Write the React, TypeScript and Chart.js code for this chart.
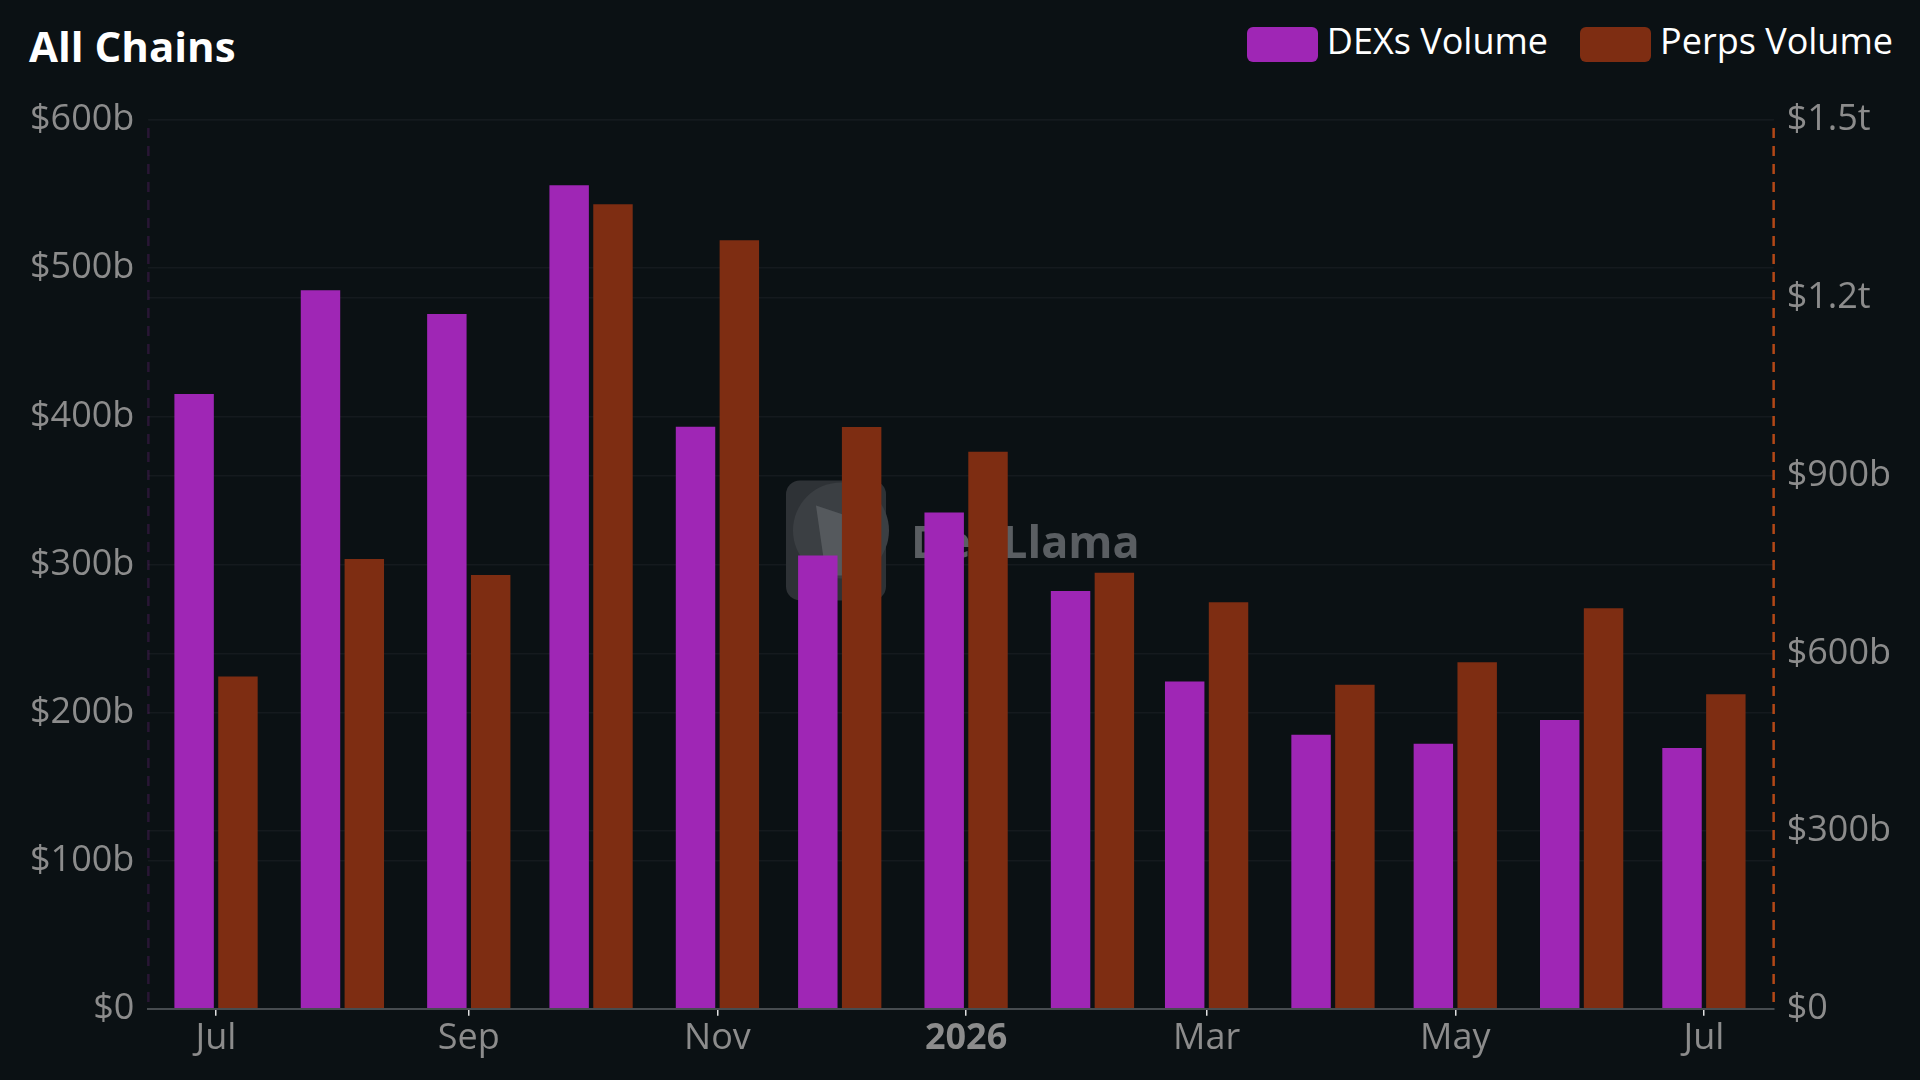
import React, { useEffect, useRef } from "react";
import { Chart, registerables } from "chart.js";

Chart.register(...registerables);

// ---- data ----
const months = [
  "2025-07", "2025-08", "2025-09", "2025-10", "2025-11", "2025-12", "2026-01",
  "2026-02", "2026-03", "2026-04", "2026-05", "2026-06", "2026-07",
];
// billions USD
const dexVolume = [415, 485, 469, 556, 393, 306, 335, 282, 221, 185, 179, 195, 176];
const perpsVolume = [561, 759, 732, 1358, 1297, 982, 940, 736, 686, 547, 585, 676, 531];

const tickMonths = ["2025-07", "2025-09", "2025-11", "2026-01", "2026-03", "2026-05", "2026-07"];
const tickLabels = ["Jul", "Sep", "Nov", "2026", "Mar", "May", "Jul"];

const seriesNames = ["DEXs Volume", "Perps Volume"];
const seriesColors = ["#9f26b5", "#7e2d12"];

const FONT = "'Open Sans', 'Noto Sans', sans-serif";
const BG = "#0b1114";
const TICK_COLOR = "#8c8c8c";
const GRID_COLOR = "#151a1e";

const toDay = (s: string) => {
  const [y, m] = s.split("-").map(Number);
  return Date.UTC(y, m - 1, 1) / 86400000;
};

const fmt = (v: number) => {
  if (v === 0) return "$0";
  if (v >= 1000) return `$${+(v / 1000).toFixed(1)}t`;
  return `$${v}b`;
};

const watermark = {
  id: "watermark",
  beforeDatasetsDraw(chart: any) {
    const { ctx, chartArea } = chart;
    const cx = (chartArea.left + chartArea.right) / 2;
    const cy = (chartArea.top + chartArea.bottom) / 2 - 24;
    ctx.save();
    const lx = cx - 175;
    const ly = cy - 60;
    ctx.fillStyle = "#2e3236";
    ctx.beginPath();
    (ctx as any).roundRect(lx, ly, 100, 120, 14);
    ctx.fill();
    ctx.fillStyle = "#3b3f43";
    ctx.beginPath();
    ctx.arc(lx + 55, ly + 50, 48, 0, Math.PI * 2);
    ctx.fill();
    ctx.fillStyle = "#55595d";
    ctx.beginPath();
    ctx.moveTo(lx + 30, ly + 25);
    ctx.lineTo(lx + 60, ly + 35);
    ctx.lineTo(lx + 72, ly + 95);
    ctx.lineTo(lx + 40, ly + 95);
    ctx.closePath();
    ctx.fill();
    ctx.fillStyle = "#5a5e62";
    ctx.font = `bold 45px ${FONT}`;
    ctx.textBaseline = "alphabetic";
    ctx.textAlign = "left";
    ctx.fillText("DefiLlama", cx - 50, cy + 18);
    ctx.restore();
  },
};

// dashed vertical axis borders (left faint purple, right orange)
const axisBorders = {
  id: "axisBorders",
  afterDatasetsDraw(chart: any) {
    const { ctx, chartArea } = chart;
    const { left, right, top, bottom } = chartArea;
    ctx.save();
    ctx.lineWidth = 2.5;
    ctx.setLineDash([10, 8]);
    ctx.strokeStyle = "rgba(150,40,170,0.22)";
    ctx.beginPath();
    ctx.moveTo(left, top + 8);
    ctx.lineTo(left, bottom);
    ctx.stroke();
    ctx.strokeStyle = "#b34817";
    ctx.beginPath();
    ctx.moveTo(right, top + 8);
    ctx.lineTo(right, bottom);
    ctx.stroke();
    ctx.restore();
  },
};

export default function App() {
  const ref = useRef<HTMLCanvasElement | null>(null);

  useEffect(() => {
    if (!ref.current) return;
    const xs = months.map(toDay);
    const chart = new Chart(ref.current, {
      type: "bar",
      data: {
        datasets: [
          {
            label: seriesNames[0],
            data: xs.map((x, i) => ({ x, y: dexVolume[i] })),
            backgroundColor: seriesColors[0],
            yAxisID: "y",
          },
          {
            label: seriesNames[1],
            data: xs.map((x, i) => ({ x, y: perpsVolume[i] })),
            backgroundColor: seriesColors[1],
            yAxisID: "y1",
          },
        ],
      },
      options: {
        animation: false,
        responsive: true,
        maintainAspectRatio: false,
        categoryPercentage: 0.768,
        barPercentage: 0.9,
        layout: { padding: { top: 120, left: 16, right: 16, bottom: 19 } },
        plugins: {
          legend: { display: false },
          title: { display: false },
          tooltip: { enabled: false },
        },
        scales: {
          x: {
            type: "linear",
            offset: false,
            min: xs[0] - 16.6,
            max: xs[xs.length - 1] + 17.1,
            afterBuildTicks: (axis: any) => {
              axis.ticks = tickMonths.map((m) => ({ value: toDay(m) }));
            },
            grid: {
              offset: false,
              drawOnChartArea: false,
              drawTicks: true,
              tickLength: 7,
              color: "#e0e0e0",
              lineWidth: 1.5,
            },
            border: { display: true, color: "#474c50", width: 2, z: 1 },
            ticks: {
              autoSkip: false,
              maxRotation: 0,
              padding: 1,
              color: TICK_COLOR,
              callback: (_v: any, i: number) => tickLabels[i],
              font: (ctx: any) => ({
                family: FONT,
                size: 36,
                weight: ctx.tick && ctx.tick.label === "2026" ? "bold" : "normal",
              }),
            },
          },
          y: {
            position: "left",
            min: 0,
            max: 600,
            ticks: {
              stepSize: 100,
              padding: 14,
              color: TICK_COLOR,
              font: { family: FONT, size: 36 },
              callback: (v: any) => fmt(Number(v)),
            },
            grid: { color: GRID_COLOR, lineWidth: 1.5, drawTicks: false },
            border: { display: false },
          },
          y1: {
            position: "right",
            min: 0,
            max: 1500,
            ticks: {
              stepSize: 300,
              padding: 13,
              color: TICK_COLOR,
              font: { family: FONT, size: 36 },
              callback: (v: any) => fmt(Number(v)),
            },
            grid: { color: GRID_COLOR, lineWidth: 1.5, drawTicks: false },
            border: { display: false },
          },
        },
      },
      plugins: [watermark, axisBorders],
    } as any);
    return () => chart.destroy();
  }, []);

  return (
    <div
      style={{
        position: "fixed",
        left: 0,
        top: 0,
        width: 1920,
        height: 1080,
        background: BG,
        fontFamily: FONT,
      }}
    >
      <div
        style={{
          position: "absolute",
          left: 29,
          top: 25,
          fontSize: 42,
          lineHeight: "42px",
          fontWeight: "bold",
          color: "#ffffff",
        }}
      >
        All Chains
      </div>
      <div
        style={{
          position: "absolute",
          right: 27,
          top: 27,
          height: 35,
          display: "flex",
          alignItems: "center",
          gap: 32,
        }}
      >
        {seriesNames.map((name, i) => (
          <div key={name} style={{ display: "flex", alignItems: "center" }}>
            <div
              style={{
                width: 71,
                height: 35,
                borderRadius: 6,
                background: seriesColors[i],
                marginRight: 9,
              }}
            />
            <span
              style={{
                fontSize: 36,
                lineHeight: "35px",
                color: "#ffffff",
                position: "relative",
                top: -4,
              }}
            >
              {name}
            </span>
          </div>
        ))}
      </div>
      <div style={{ position: "absolute", left: 0, top: 0, width: 1920, height: 1080 }}>
        <canvas ref={ref} />
      </div>
    </div>
  );
}
